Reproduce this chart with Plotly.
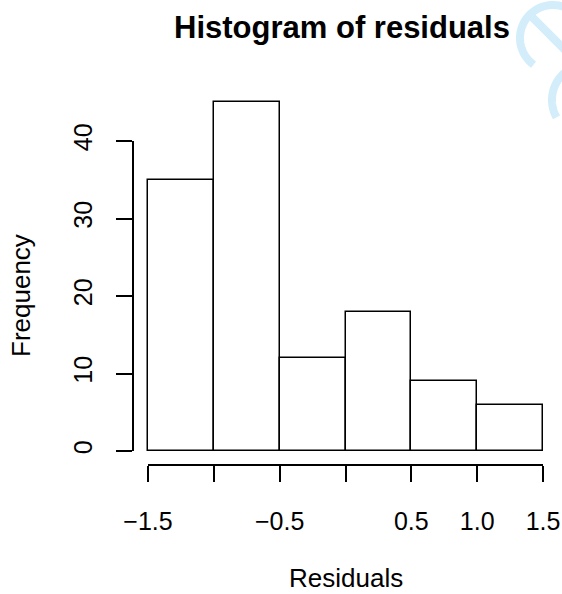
import numpy as np
import plotly.graph_objects as go

# Histogram data: bin edges and counts per bin
bin_edges = [-1.5, -1.0, -0.5, 0.0, 0.5, 1.0, 1.5]
counts = [35, 45, 12, 18, 9, 6]

# Axis ticks
x_tickvals = [-1.5, -1.0, -0.5, 0.0, 0.5, 1.0, 1.5]
x_ticktext = ["\u22121.5", "", "\u22120.5", "", "0.5", "1.0", "1.5"]
y_tickvals = [0, 10, 20, 30, 40]
y_ticktext = ["0", "10", "20", "30", "40"]

W, H = 562, 594
FONT = "Liberation Sans, Arial, Helvetica, sans-serif"


def px_x(p):
    return p / W


def px_y(p):
    return 1 - p / H


edges = np.array(bin_edges)
centers = (edges[:-1] + edges[1:]) / 2
widths = np.diff(edges)

# pixel geometry of the data area
X0_PX, X1_PX = 148, 543          # x = -1.5 .. 1.5
Y0_PX, Y40_PX = 451, 141         # count 0 .. 40
px_per_x = (X1_PX - X0_PX) / (edges[-1] - edges[0])
px_per_y = (Y0_PX - Y40_PX) / 40
PAD = 8                          # room so the outer bar outlines are not clipped
bar_top_px = 60

fig = go.Figure()
fig.add_trace(go.Bar(
    x=centers, y=counts, width=widths,
    marker=dict(color="white", line=dict(color="black", width=1.5)),
    showlegend=False, hoverinfo="x+y",
))
# carrier for the drawn axes
fig.add_trace(go.Scatter(x=[None], y=[None], xaxis="x2", yaxis="y2",
                         showlegend=False, hoverinfo="skip"))

fig.update_layout(
    width=W, height=H,
    margin=dict(l=0, r=0, t=0, b=0, pad=0, autoexpand=False),
    paper_bgcolor="white", plot_bgcolor="rgba(0,0,0,0)",
    bargap=0,
    font=dict(family=FONT, color="black", size=25),
    xaxis=dict(
        domain=[px_x(X0_PX - PAD), px_x(X1_PX + PAD)],
        range=[edges[0] - PAD / px_per_x, edges[-1] + PAD / px_per_x],
        visible=False, fixedrange=True,
    ),
    yaxis=dict(
        domain=[px_y(Y0_PX), px_y(bar_top_px)],
        range=[0, (Y0_PX - bar_top_px) / px_per_y],
        visible=False, fixedrange=True,
    ),
    xaxis2=dict(
        domain=[px_x(X0_PX), px_x(X1_PX)], range=[edges[0], edges[-1]],
        anchor="free", position=px_y(465),
        showline=True, linecolor="black", linewidth=1.5,
        ticks="outside", ticklen=16, tickwidth=1.5, tickcolor="black",
        tickvals=x_tickvals, ticktext=x_ticktext,
        ticklabelstandoff=18, automargin=False,
        showgrid=False, zeroline=False, fixedrange=True,
    ),
    yaxis2=dict(
        domain=[px_y(Y0_PX), px_y(Y40_PX)], range=[0, 40],
        anchor="free", position=px_x(133),
        showline=True, linecolor="black", linewidth=1.5,
        ticks="outside", ticklen=16, tickwidth=1.5, tickcolor="black",
        tickvals=y_tickvals, ticktext=y_ticktext, tickangle=-90,
        ticklabelstandoff=14, automargin=False,
        showgrid=False, zeroline=False, fixedrange=True,
    ),
    title=dict(
        text="<b>Histogram of residuals</b>",
        x=px_x(342), xanchor="center", y=px_y(27), yanchor="middle",
        font=dict(family=FONT, size=31, color="black"),
    ),
)

fig.add_annotation(text="Residuals", xref="paper", yref="paper",
                   x=px_x(346), y=px_y(578), showarrow=False,
                   xanchor="center", yanchor="middle",
                   font=dict(family=FONT, size=26, color="black"))
fig.add_annotation(text="Frequency", xref="paper", yref="paper",
                   x=px_x(21), y=px_y(296), showarrow=False, textangle=-90,
                   xanchor="center", yanchor="middle",
                   font=dict(family=FONT, size=26, color="black"))

# light-blue corner emblem (two rotated letter strokes)
EMB = "#d3edfb"


def arc_path(cx, cy, r, a0, a1, n=60):
    ang = np.radians(np.linspace(a0, a1, n))
    xs = cx + r * np.cos(ang)
    ys = cy + r * np.sin(ang)
    pts = [f"{px_x(x):.5f},{px_y(y):.5f}" for x, y in zip(xs, ys)]
    return "M" + " L".join(pts)


cx1, cy1, r1 = 553, 38, 33
fig.add_shape(type="path", xref="paper", yref="paper",
              path=arc_path(cx1, cy1, r1, 126, 420),
              line=dict(color=EMB, width=8), layer="below")
d = r1 * np.cos(np.radians(45))
fig.add_shape(type="line", xref="paper", yref="paper",
              x0=px_x(cx1 - d), y0=px_y(cy1 - d),
              x1=px_x(cx1 + d), y1=px_y(cy1 + d),
              line=dict(color=EMB, width=8), layer="below")
fig.add_shape(type="path", xref="paper", yref="paper",
              path=arc_path(588, 100, 36, 151, 235),
              line=dict(color=EMB, width=8), layer="below")

fig.write_html("out.html")
